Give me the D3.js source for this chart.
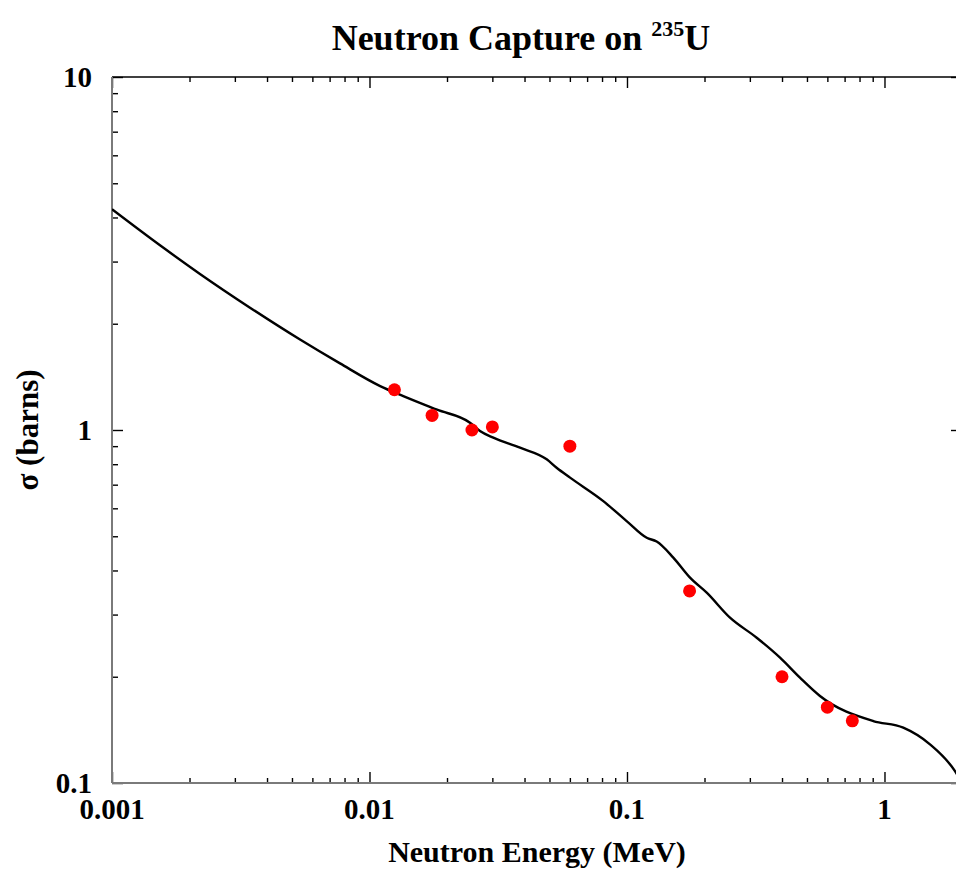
<!DOCTYPE html>
<html>
<head>
<meta charset="utf-8">
<script src="https://cdn.jsdelivr.net/npm/d3@7"></script>
<style>
	body { margin: 0; background: #fff; }
	svg { display: block; }
	text { font-family: "Liberation Serif", "Times New Roman", serif; font-weight: bold; fill: #000; }
	.axis path { display: none; }
	.axis line { stroke: #000; stroke-width: 1.4; }
</style>
</head>
<body>
<svg id="chart" width="956" height="871"></svg>
<script>
// evaluated cross section (curve), energy in MeV, sigma in barns
const curveE = [0.001, 0.001536, 0.002196, 0.003435, 0.005373, 0.007681, 0.011, 0.01353, 0.01829, 0.02456,
	0.02686, 0.03026, 0.03842, 0.04877, 0.0533, 0.0601, 0.0809, 0.0997, 0.1193, 0.1304,
	0.1513, 0.1757, 0.204, 0.2512, 0.319, 0.393, 0.4696, 0.5616, 0.905, 1.183,
	1.502, 1.879, 2.0];
const curveSigma = [4.22, 3.336, 2.768, 2.221, 1.804, 1.544, 1.332, 1.248, 1.142, 1.049,
	0.9935, 0.951, 0.891, 0.826, 0.782, 0.733, 0.629, 0.552, 0.495, 0.483,
	0.435, 0.3816, 0.346, 0.294, 0.258, 0.2265, 0.1988, 0.1764, 0.1498, 0.1435,
	0.1287, 0.108, 0.1];

// measured points
const dataE = [0.0125, 0.0175, 0.025, 0.03, 0.06, 0.175, 0.4, 0.6, 0.75];
const dataSigma = [1.3, 1.1, 1.0, 1.02, 0.9, 0.35, 0.2, 0.164, 0.15];

const xMajor = [0.001, 0.01, 0.1, 1];
const xMajorLabels = ['0.001', '0.01', '0.1', '1'];
const yMajor = [0.1, 1, 10];
const yMajorLabels = ['0.1', '1', '10'];

const minorsOf = (decades, top) => {
	const out = [];
	decades.forEach(d => {
		for (let m = 2; m <= 9; m++) {
			const v = +(d * m).toPrecision(3);
			if (v <= top) out.push(v);
		}
	});
	return out;
};

const margin = { left: 112, top: 77, right: 962, bottom: 783 };
const svg = d3.select('#chart');

const x = d3.scaleLog().domain([0.001, 2]).range([margin.left, margin.right]);
const y = d3.scaleLog().domain([0.1, 10]).range([margin.bottom, margin.top]);

const xMinor = minorsOf([0.001, 0.01, 0.1, 1], 2);
const yMinor = minorsOf([0.1, 1], 10);

// ticks, all pointing inward
function addAxis (axisFn, scale, vals, size, transform) {
	svg.append('g')
		.classed('axis', true)
		.attr('transform', transform)
		.call(axisFn(scale).tickValues(vals).tickSize(size).tickFormat(''));
}
addAxis(d3.axisBottom, x, xMinor, -5, `translate(0,${margin.bottom})`);
addAxis(d3.axisBottom, x, xMajor, -11, `translate(0,${margin.bottom})`);
addAxis(d3.axisTop, x, xMinor, -5, `translate(0,${margin.top})`);
addAxis(d3.axisTop, x, xMajor, -11, `translate(0,${margin.top})`);
addAxis(d3.axisLeft, y, yMinor, -6, `translate(${margin.left},0)`);
addAxis(d3.axisLeft, y, yMajor, -11, `translate(${margin.left},0)`);
addAxis(d3.axisRight, y, yMinor, -6, `translate(${margin.right},0)`);
addAxis(d3.axisRight, y, yMajor, -11, `translate(${margin.right},0)`);

// frame
svg.append('line')
	.attr('x1', margin.left).attr('x2', margin.right)
	.attr('y1', margin.top).attr('y2', margin.top)
	.attr('stroke', '#000').attr('stroke-width', 1.5);
svg.append('line')
	.attr('x1', margin.right).attr('x2', margin.right)
	.attr('y1', margin.top).attr('y2', margin.bottom)
	.attr('stroke', '#000').attr('stroke-width', 1.5);
svg.append('line')
	.attr('x1', margin.left).attr('x2', margin.left)
	.attr('y1', margin.top).attr('y2', margin.bottom)
	.attr('stroke', '#7a7a7a').attr('stroke-width', 2);
svg.append('line')
	.attr('x1', margin.left).attr('x2', margin.right)
	.attr('y1', margin.bottom).attr('y2', margin.bottom)
	.attr('stroke', '#7a7a7a').attr('stroke-width', 2);

// tick labels
svg.append('g')
	.selectAll('text')
	.data(xMajor)
	.enter()
	.append('text')
		.attr('x', d => x(d))
		.attr('y', 819)
		.attr('text-anchor', 'middle')
		.style('font-size', '29px')
		.text((d, i) => xMajorLabels[i]);

svg.append('g')
	.selectAll('text')
	.data(yMajor)
	.enter()
	.append('text')
		.attr('x', 92)
		.attr('y', d => y(d) + 10)
		.attr('text-anchor', 'end')
		.style('font-size', '29px')
		.text((d, i) => yMajorLabels[i]);

// curve
const clip = svg.append('clipPath').attr('id', 'plot-clip');
clip.append('rect')
	.attr('x', margin.left).attr('y', margin.top)
	.attr('width', margin.right - margin.left)
	.attr('height', margin.bottom - margin.top);

const line = d3.line()
	.x((d, i) => x(curveE[i]))
	.y((d, i) => y(curveSigma[i]))
	.curve(d3.curveMonotoneX);

svg.append('path')
	.attr('clip-path', 'url(#plot-clip)')
	.attr('d', line(curveE))
	.attr('fill', 'none')
	.attr('stroke', '#000')
	.attr('stroke-width', 2.4);

// data points
svg.append('g')
	.selectAll('circle')
	.data(dataE)
	.enter()
	.append('circle')
		.attr('cx', d => x(d))
		.attr('cy', (d, i) => y(dataSigma[i]))
		.attr('r', 6.5)
		.attr('fill', '#ff0000');

// titles
const title = svg.append('text')
	.attr('x', 521)
	.attr('y', 50)
	.attr('text-anchor', 'middle')
	.style('font-size', '36px');
title.append('tspan').text('Neutron Capture on ');
title.append('tspan').attr('dy', -14).style('font-size', '22px').text('235');
title.append('tspan').attr('dy', 14).text('U');

svg.append('text')
	.attr('x', 537)
	.attr('y', 862)
	.attr('text-anchor', 'middle')
	.style('font-size', '30px')
	.text('Neutron Energy (MeV)');

svg.append('text')
	.attr('transform', 'translate(38,430) rotate(-90)')
	.attr('text-anchor', 'middle')
	.style('font-size', '31px')
	.text('σ (barns)');
</script>
</body>
</html>
